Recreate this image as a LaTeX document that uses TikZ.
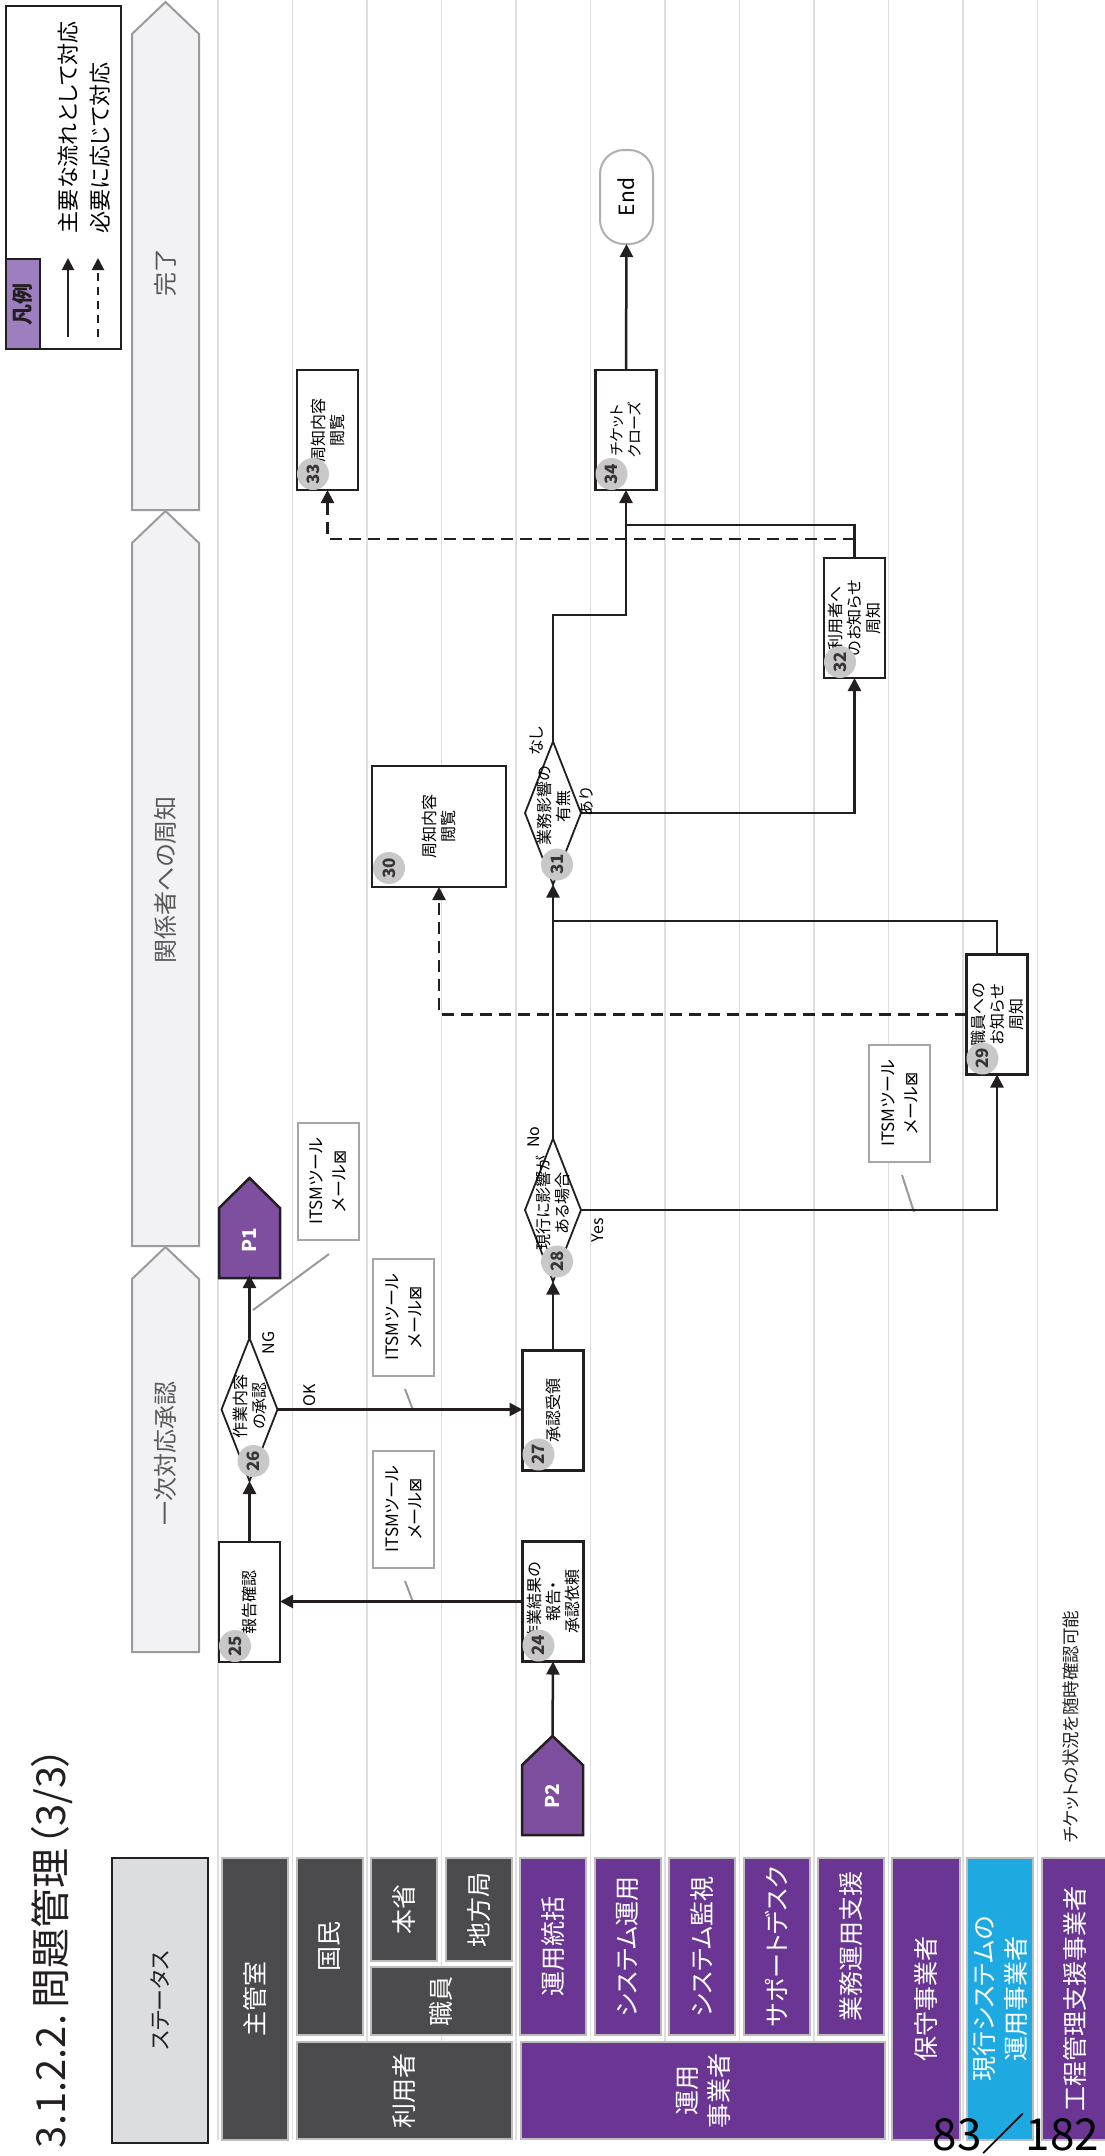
\documentclass[tikz,border=0pt]{standalone}
\usepackage{fontspec}
\setmainfont{Noto Sans CJK JP}[RawFeature=+palt]
\newfontfamily\symfont{DejaVu Sans}
\usetikzlibrary{arrows.meta,shapes.geometric,shapes.symbols,calc}
\definecolor{hdark}{HTML}{4B4B4D}
\definecolor{hpurple}{HTML}{6A3593}
\definecolor{hcyan}{HTML}{1EAAE0}
\definecolor{hborder}{HTML}{BDBDBD}
\definecolor{ppurple}{HTML}{7E4F9F}
\definecolor{lpurple}{HTML}{9D7FBF}
\definecolor{lanecol}{HTML}{DEDEDE}
\definecolor{chevfill}{HTML}{F2F2F4}
\definecolor{chevdraw}{HTML}{9B9B9B}
\definecolor{stfill}{HTML}{DCDDDF}
\definecolor{badgecol}{HTML}{C8C8C8}
\definecolor{ink}{HTML}{231F20}
\definecolor{calloutcol}{HTML}{9A9A9A}
\definecolor{itsmcol}{HTML}{A6A6A6}
\definecolor{endcol}{HTML}{AFAFAF}
\definecolor{greytext}{HTML}{595959}
\newcommand\fsz[2]{\fontsize{#1pt}{#2pt}\selectfont}
\begin{document}
\begin{tikzpicture}[x=1pt,y=1pt,
  every node/.style={inner sep=0pt, outer sep=0pt},
  rot/.style={rotate=90},
  hdr/.style={rot, draw=hborder, line width=1.8pt, text=white, align=center, font=\fsz{25}{32}},
  box/.style={rot, draw=ink, line width=2.6pt, fill=white, align=center, font=\fsz{16}{19}, minimum width=120pt, minimum height=61pt},
  dia/.style={rot, diamond, draw=ink, line width=1.8pt, fill=white, minimum width=143pt, minimum height=56pt},
  dtext/.style={rot, align=center, font=\fsz{16}{19}},
  badge/.style={rot, circle, fill=badgecol, minimum size=32pt, font=\fsz{17}{17}\bfseries, text=ink!90},
  itsm/.style={rot, draw=itsmcol, line width=2pt, fill=white, align=center, font=\fsz{17}{23}, minimum width=117pt, minimum height=61pt},
  pshape/.style={fill=ppurple, draw=ink, line width=2.5pt},
  ptext/.style={rot, text=white, font=\fsz{19}{19}\bfseries, minimum width=70pt, minimum height=61pt},
  lbl/.style={rot, font=\fsz{16}{16}},
  chev/.style={fill=chevfill, draw=chevdraw, line width=2pt},
  chevtext/.style={rot, text=greytext, font=\fsz{24}{24}},
  arr/.style={draw=ink, line width=2.5pt, -{Triangle[length=13pt,width=13pt]}},
  ln/.style={draw=ink, line width=2.5pt},
  darr/.style={arr, dash pattern=on 12pt off 7pt},
  call/.style={draw=calloutcol, line width=2pt},
  lane/.style={draw=lanecol, line width=1.5pt},
]
\useasboundingbox (0,0) rectangle (1104,-2156);
\fill[white] (0,0) rectangle (1104,-2156);

% lane separators
\foreach \i in {0,...,11} \draw[lane] ({218+74.5*\i},0) -- ({218+74.5*\i},-2140);

% legend
\draw[draw=ink, line width=2pt] (6,-6) rectangle (121,-349);
\node[rot, fill=lpurple, draw=ink, line width=2pt, minimum width=90pt, minimum height=34pt, font=\fsz{21}{21}\bfseries, text=ink] (lgd) at (23,-304) {凡例};
\coordinate (ls1) at (68,-337); \coordinate (le1) at (68,-258);
\coordinate (ls2) at (98,-337); \coordinate (le2) at (98,-258);
\draw[draw=ink, line width=2pt, -{Triangle[length=12pt,width=12pt]}] (ls1) -- (le1);
\draw[draw=ink, line width=2pt, dash pattern=on 8pt off 6pt, -{Triangle[length=12pt,width=12pt]}] (ls2) -- (le2);
\node[rot, anchor=west, font=\fsz{22}{22}] (lgt1) at (68,-233) {主要な流れとして対応};
\node[rot, anchor=west, font=\fsz{22}{22}] (lgt2) at (100,-233) {必要に応じて対応};

% status chevrons
\draw[chev] (132,-510) -- (132,-34) -- (165.5,-2) -- (199,-34) -- (199,-510) -- cycle;
\draw[chev] (132,-1246) -- (132,-543) -- (165.5,-511) -- (199,-543) -- (199,-1246) -- cycle;
\draw[chev] (132,-1652) -- (132,-1279) -- (165.5,-1247) -- (199,-1279) -- (199,-1652) -- cycle;
\node[chevtext] (st3) at (165.5,-272) {完了};
\node[chevtext] (st2) at (165.5,-880) {関係者への周知};
\node[chevtext] (st1) at (165.5,-1453) {一次対応承認};

% title
\node[rot, anchor=west, font=\fsz{40}{40}, text=ink] (title) at (52,-2148) {3.1.2.2.\hspace{6pt}問題管理\hspace{2pt}（3/3）};

% header boxes
\node[rot, fill=stfill, draw=ink, line width=1.5pt, minimum width=285pt, minimum height=96pt, font=\fsz{22}{22}, text=ink] (hst) at (160,-2000.5) {ステータス};
\node[hdr, fill=hdark, minimum width=282pt, minimum height=66pt] (h1) at (255.25,-1999) {主管室};
\node[hdr, fill=hdark, minimum width=177pt, minimum height=66pt] (h2) at (329.75,-1946.5) {国民};
\node[hdr, fill=hdark, minimum width=103pt, minimum height=66pt] (h3) at (404.25,-1909.5) {本省};
\node[hdr, fill=hdark, minimum width=103pt, minimum height=66pt] (h4) at (478.75,-1909.5) {地方局};
\node[hdr, fill=hdark, minimum width=68pt, minimum height=141pt] (h5) at (441.5,-2001) {職員};
\node[hdr, fill=hdark, minimum width=97pt, minimum height=215pt] (h6) at (404.5,-2090.5) {利用者};
\node[hdr, fill=hpurple, minimum width=177pt, minimum height=66pt] (h7) at (553.25,-1946.5) {運用統括};
\node[hdr, fill=hpurple, minimum width=177pt, minimum height=66pt] (h8) at (627.75,-1946.5) {システム運用};
\node[hdr, fill=hpurple, minimum width=177pt, minimum height=66pt] (h9) at (702.25,-1946.5) {システム監視};
\node[hdr, fill=hpurple, minimum width=177pt, minimum height=66pt] (h10) at (776.75,-1946.5) {サポートデスク};
\node[hdr, fill=hpurple, minimum width=177pt, minimum height=66pt] (h11) at (851.25,-1946.5) {業務運用支援};
\node[hdr, fill=hpurple, minimum width=97pt, minimum height=364pt] (h12) at (703,-2090.5) {運用\\事業者};
\node[hdr, fill=hpurple, minimum width=282pt, minimum height=68pt] (h13) at (925.75,-1999) {保守事業者};
\node[hdr, fill=hcyan, minimum width=282pt, minimum height=66pt] (h14) at (1000.25,-1999) {現行システムの\\運用事業者};
\node[hdr, fill=hpurple, minimum width=282pt, minimum height=66pt] (h15) at (1075,-1999) {工程管理支援事業者};

% notes
\node[rot, font=\fsz{17.5}{17.5}, text=ink] (note) at (1071,-1727) {チケットの状況を随時確認可能};
\node[font=\fsz{44}{44}, text=black] (page) at (1016,-2134) {83／182};

% ITSM boxes
\node[itsm] (i1) at (328,-1181.5) {ITSMツール\\メール{\symfont ⊠}};
\node[itsm] (i2) at (403.5,-1317.5) {ITSMツール\\メール{\symfont ⊠}};
\node[itsm] (i3) at (403.5,-1509) {ITSMツール\\メール{\symfont ⊠}};
\node[itsm] (i4) at (899.5,-1103.5) {ITSMツール\\メール{\symfont ⊠}};
\draw[call] (253,-1310) -- (329,-1254);
\draw[call] (405,-1389) -- (413,-1410);
\draw[call] (405,-1581) -- (413,-1602);
\draw[call] (902,-1175) -- (914,-1212);

% P connectors (pentagons)
\draw[pshape] (219,-1278) -- (219,-1208) -- (249.5,-1178) -- (280,-1208) -- (280,-1278) -- cycle;
\draw[pshape] (522,-1835) -- (522,-1765) -- (552.5,-1736) -- (583,-1765) -- (583,-1835) -- cycle;
\node[ptext] (P1) at (249.5,-1240) {P1};
\node[ptext] (P2) at (552.5,-1796) {P2};
\coordinate (P2tip) at (552.5,-1736);

% flow nodes
\node[box] (n24) at (553,-1601.5) {作業結果の\\報告・\\承認依頼};
\node[box] (n25) at (249.5,-1602) {報告確認};
\node[dia] (d26) at (249.5,-1409.5) {};
\node[dtext] (d26t) at (250,-1406) {作業内容\\の承認};
\node[box] (n27) at (553,-1410.5) {承認受領};
\node[dia] (d28) at (553,-1210) {};
\node[dtext] (d28t) at (553,-1203) {現行に影響が\\ある場合};
\node[box] (n29) at (997,-1014.5) {職員への\\お知らせ\\周知};
\node[box, minimum width=121pt, minimum height=134pt] (n30) at (439,-826.5) {周知内容\\閲覧};
\node[dia] (d31) at (553,-813) {};
\node[dtext] (d31t) at (554,-806) {業務影響の\\有無};
\node[box] (n32) at (854.5,-618) {利用者へ\\のお知らせ\\周知};
\node[box] (n33) at (327.5,-430) {周知内容\\閲覧};
\node[box, font=\fsz{15}{18}] (n34) at (626,-430) {チケット\\クローズ};
\node[rot, draw=endcol, line width=2pt, rounded corners=24pt, minimum width=94pt, minimum height=53pt, font=\fsz{21}{21}] (end) at (626.5,-197) {End};

% junction coordinates
\coordinate (j1) at (553,-921);
\coordinate (j2) at (553,-615);
\coordinate (j3) at (626,-525);
\coordinate (j4) at (854.5,-539);

% connectors
\draw[arr] (P2tip) -- (n24.west);
\draw[arr] (n24.north) -- (n24.north -| n25.south);
\draw[arr] (n25.east) -- (d26.west);
\draw[arr] (d26.east) -- (P1.west);
\draw[arr] (d26.south) -- (d26.south -| n27.north);
\draw[arr] (n27.east) -- (d28.west);
\draw[arr] (d28.south) -| (n29.west);
\draw[arr] (d28.east) -- (d31.west);
\draw[ln] (n29.east) |- (j1);
\draw[darr] (n29.north) -| (n30.west);
\draw[arr] (d31.south) -| (n32.west);
\draw[arr] (d31.east) -- (j2) -| (n34.west);
\draw[ln] (n32.east) |- (j3);
\draw[darr] (j4) -| (n33.west);
\draw[arr] (n34.east) -- (end.west);

% labels
\node[lbl] (lNG) at (269,-1343) {NG};
\node[lbl] (lOK) at (310,-1395) {OK};
\node[lbl] (lYes) at (598,-1230) {Yes};
\node[lbl] (lNo) at (534,-1137) {No};
\node[lbl] (lnashi) at (536,-741) {なし};
\node[lbl] (lari) at (587,-802) {あり};

% badges
\node[badge] (b24) at ([shift={(16,16)}]n24.north west) {24};
\node[badge] (b25) at ([shift={(16,16)}]n25.north west) {25};
\node[badge] (b26) at ([shift={(4,20)}]d26.west) {26};
\node[badge] (b27) at ([shift={(16,16)}]n27.north west) {27};
\node[badge] (b28) at ([shift={(4,20)}]d28.west) {28};
\node[badge] (b29) at ([shift={(16,16)}]n29.north west) {29};
\node[badge] (b30) at ([shift={(17,19)}]n30.north west) {30};
\node[badge] (b31) at ([shift={(4,20)}]d31.west) {31};
\node[badge] (b32) at ([shift={(16,16)}]n32.north west) {32};
\node[badge] (b33) at ([shift={(16,16)}]n33.north west) {33};
\node[badge] (b34) at ([shift={(16,16)}]n34.north west) {34};
\end{tikzpicture}
\end{document}
